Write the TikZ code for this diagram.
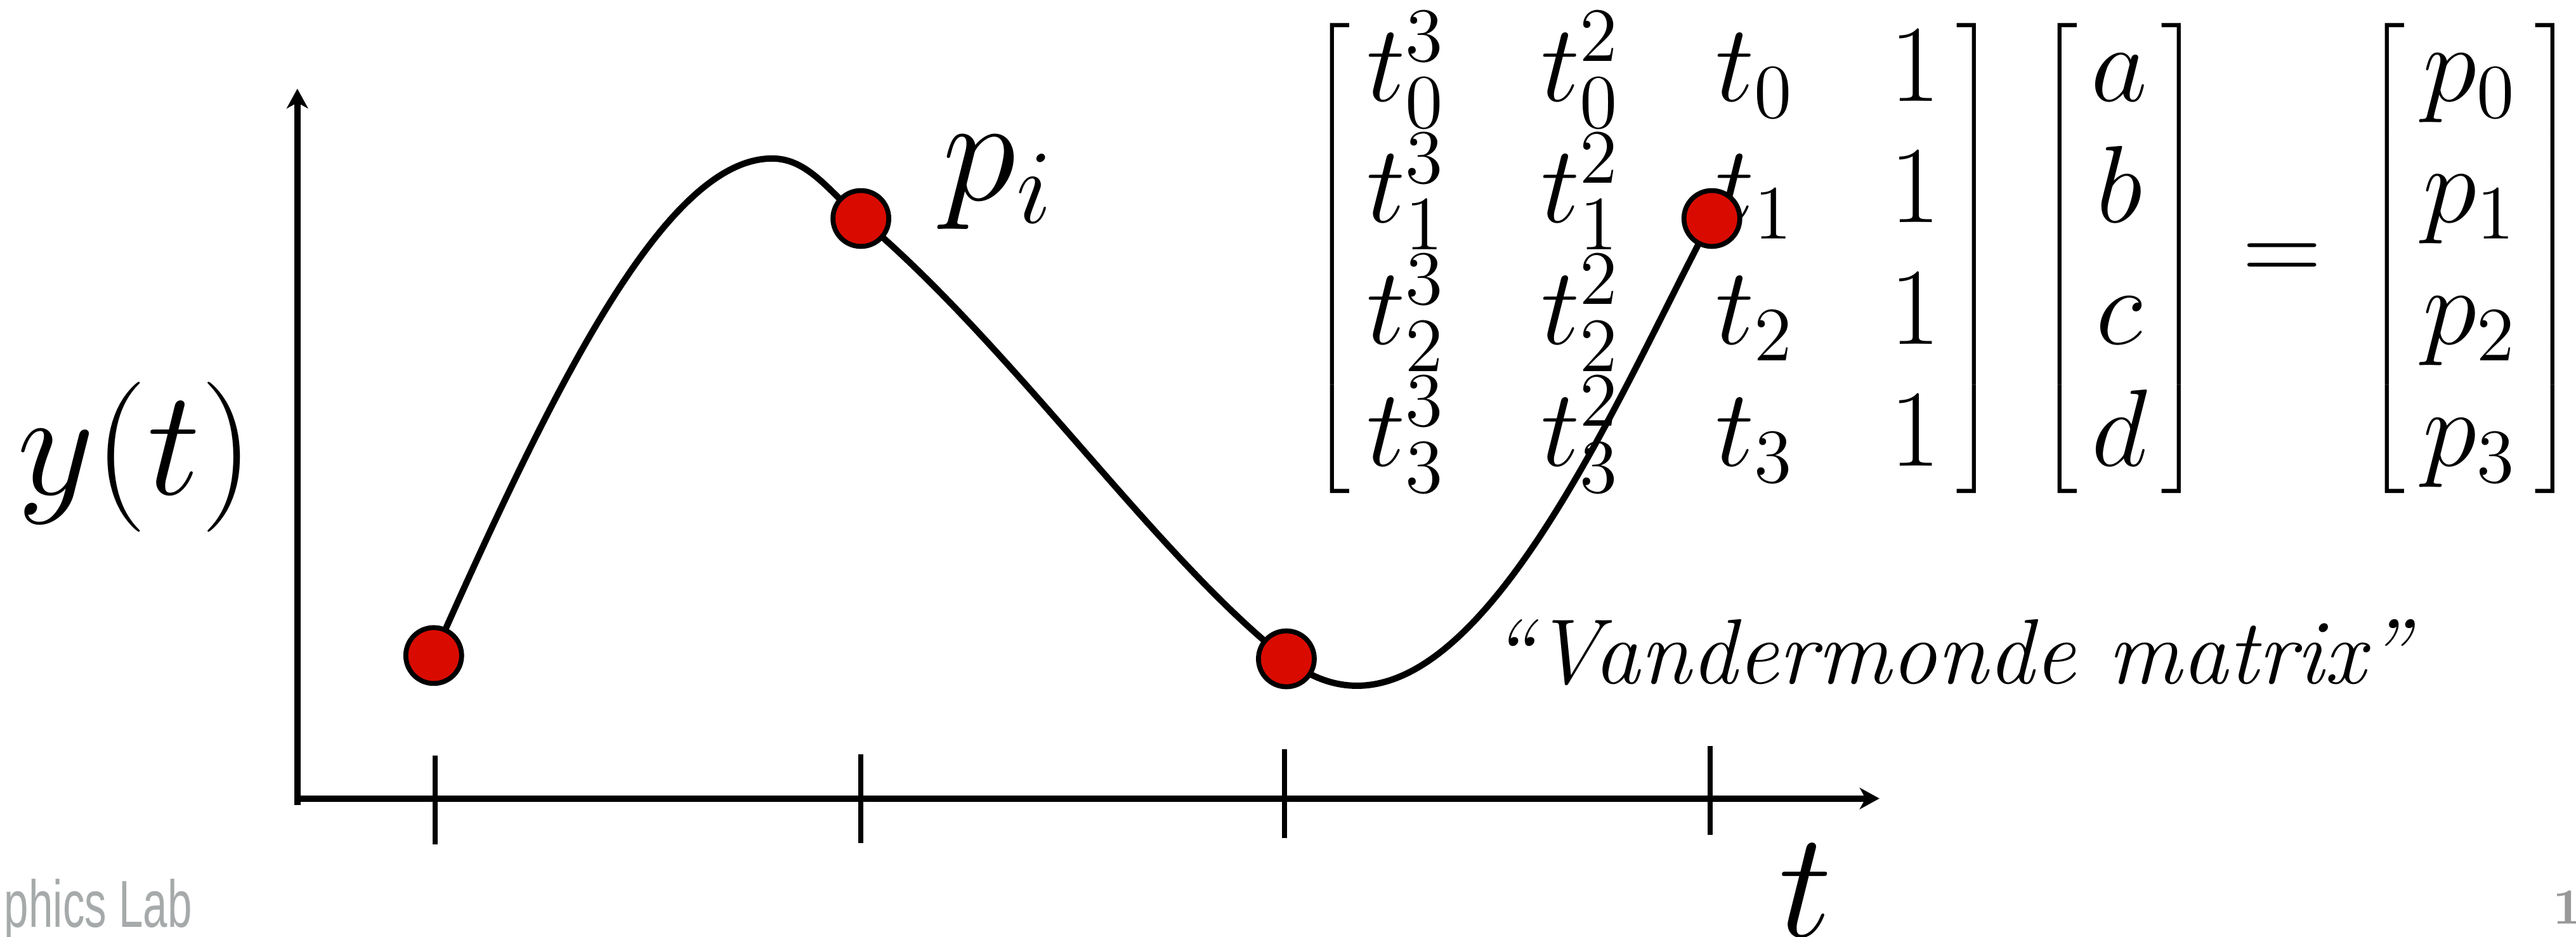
\RequirePackage{fix-cm}
\documentclass[tikz,border=0pt]{standalone}
\usepackage{fontspec}
\usetikzlibrary{matrix,arrows.meta}
\newfontfamily\footfont[FakeStretch=0.66]{Liberation Sans}
\definecolor{ptred}{HTML}{D90B00}
\definecolor{footgrey}{HTML}{A6AAAA}
\definecolor{pagegrey}{HTML}{999999}
\tikzset{
  axis/.style     ={line width=1.1pt, -{Stealth[length=1.2mm,width=1.3mm,inset=0.35mm]}},
  tickmark/.style ={line width=0.9pt},
  curve/.style    ={line width=1.1pt},
  sample/.style   ={circle, draw=black, line width=0.85pt, fill=ptred,
                    minimum size=3.4mm, inner sep=0pt},
  biglbl/.style   ={font=\fontsize{26}{30}\selectfont, inner sep=0pt},
  vmat/.style     ={matrix of math nodes, inner sep=0pt, row sep=1.0mm,
                    left delimiter={[}, right delimiter={]},
                    font=\fontsize{19}{23}\selectfont,
                    nodes={inner sep=0pt, text height=4.8mm, text depth=1.6mm,
                           font=\fontsize{19}{23}\selectfont}},
  every delimiter/.style={yshift=-0.7mm, yscale=1.044, transform shape},
  note/.style     ={font=\fontsize{16}{19}\selectfont\itshape, inner sep=0pt},
  foot/.style     ={font=\fontsize{11.5}{13}\footfont, text=footgrey, inner sep=0pt},
  pagenum/.style  ={font=\fontsize{8.8}{10}\selectfont\bfseries, text=pagegrey, inner sep=0pt}
}
\begin{document}
\begin{tikzpicture}[x=1cm,y=1cm]
  \useasboundingbox (0,0) rectangle (15.68,5.70);
  % --- axes
  \coordinate (o)     at (1.81,0.84);
  \coordinate (yfoot) at (1.81,0.80);
  \coordinate (ytip)  at (1.81,5.16);
  \coordinate (xtip)  at (11.44,0.84);
  \draw[axis] (yfoot) -- (ytip);
  \draw[axis] (o) -- (xtip);
  \foreach \x/\y in {2.65/0.83, 5.24/0.84, 7.82/0.87, 10.41/0.89}
    \draw[tickmark] (\x,\y-0.27) -- (\x,\y+0.27);
  % --- labels
  \node[biglbl,anchor=base]      (ylab) at (0.825,2.69) {$y(t)$};
  \node[biglbl,anchor=base]      (tlab) at (10.99,0.0)  {$t$};
  \node[biglbl,anchor=base west] (plab) at (5.73,4.48)  {$p_i$};
  \node[note,anchor=base west]   (vlab) at (9.06,1.54)  {``Vandermonde matrix''};
  % --- system of equations
  \matrix (vm) [vmat, inner xsep=0.5mm, column sep=5.8mm, matrix anchor=west,
                nodes={anchor=base west}] at (8.26,4.135) {
    t_0^3 & t_0^2 & t_0 & 1 \\
    t_1^3 & t_1^2 & t_1 & 1 \\
    t_2^3 & t_2^2 & t_2 & 1 \\
    t_3^3 & t_3^2 & t_3 & 1 \\
  };
  \matrix (cf) [vmat, inner xsep=0.35mm] at (12.90,4.135) { a \\ b \\ c \\ d \\ };
  \node[font=\fontsize{19}{23}\selectfont,anchor=base] (eq) at (13.89,3.98) {$=$};
  \matrix (pv) [vmat, inner xsep=0.6mm] at (15.035,4.135) { p_0 \\ p_1 \\ p_2 \\ p_3 \\ };
  % --- interpolating curve and samples
  \coordinate (c0)  at (2.64,1.71);
  \coordinate (top) at (4.70,4.735);
  \coordinate (c1)  at (5.24,4.37);
  \coordinate (c2)  at (7.83,1.69);
  \coordinate (c3)  at (10.42,4.37);
  \draw[curve] (c0) .. controls +(66:1.8) and +(180:0.65) .. (top)
               .. controls +(0:0.22) and +(140:0.25) .. (c1)
               .. controls +(-40:1.2) and +(142:1.0) .. (c2)
               .. controls +(-38:1.3) and +(242:1.3) .. (c3);
  \foreach \i in {0,...,3}
    \node[sample] (d\i) at (c\i) {};
  % --- footer
  \node[foot,anchor=base west]    (lab) at (0.02,0.055)  {phics Lab};
  \node[pagenum,anchor=base west] (pg)  at (15.53,0.075) {10};
\end{tikzpicture}
\end{document}
